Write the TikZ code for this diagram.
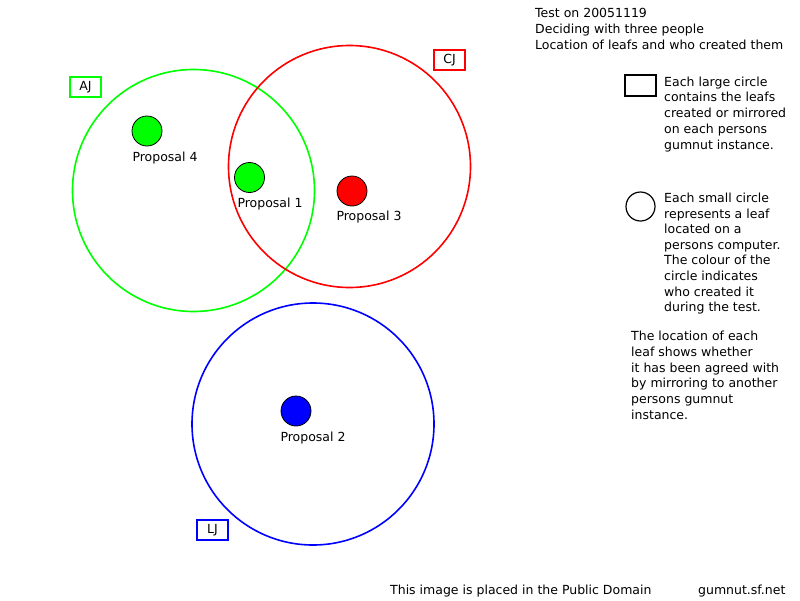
\documentclass[tikz,border=0pt]{standalone}
\usepackage{fontspec}
\setmainfont{DejaVu Sans}
\begin{document}
\begin{tikzpicture}[x=1pt,y=-1pt,
  every node/.style={font=\fontsize{12.5}{15}\selectfont},
  big/.style={circle,draw,line width=1.6pt,inner sep=0pt,minimum size=242pt},
  leaf/.style={circle,draw=black,line width=0.8pt,inner sep=0pt,minimum size=30pt},
  tag/.style={draw,line width=1.8pt,inner sep=0pt,minimum width=31pt,minimum height=20pt},
  txt/.style={anchor=base west,inner sep=0pt},
  lbl/.style={anchor=base,inner sep=0pt}]
\path[use as bounding box] (0,0) rectangle (800,600);
\fill[white] (0,0) rectangle (800,600);
% big circles
\node[big,draw={rgb,255:red,0;green,255;blue,0}] (AJc) at (193.5,190.5) {};
\node[big,draw=red] (CJc) at (349.5,166.5) {};
\node[big,draw=blue] (LJc) at (313,424) {};
% tags
\node[tag,draw={rgb,255:red,0;green,255;blue,0}] (AJ) at (85.5,87) {AJ};
\node[tag,draw=red] (CJ) at (449.5,60) {CJ};
\node[tag,draw=blue] (LJ) at (212.5,530) {LJ};
% leaves
\node[leaf,fill={rgb,255:red,0;green,255;blue,0}] (p4) at (147,131) {};
\node[leaf,fill={rgb,255:red,0;green,255;blue,0}] (p1) at (249.5,177.5) {};
\node[leaf,fill=red] (p3) at (352,191) {};
\node[leaf,fill=blue] (p2) at (296,411) {};
\node[lbl] (l4) at (165,161) {Proposal 4};
\node[lbl] (l1) at (270,207) {Proposal 1};
\node[lbl] (l3) at (369,220) {Proposal 3};
\node[lbl] (l2) at (313,441) {Proposal 2};
% title
\node[txt] (t1) at (535,17) {Test on 20051119};
\node[txt] (t2) at (535,33) {Deciding with three people};
\node[txt] (t3) at (535,49) {Location of leafs and who created them};
% legend
\node[draw=black,line width=1.8pt,inner sep=0pt,minimum width=31pt,minimum height=21pt] (legbox) at (640.5,85.5) {};
\node[txt] (a1) at (664,86) {Each large circle};
\node[txt] (a2) at (664,101.75) {contains the leafs};
\node[txt] (a3) at (664,117.5) {created or mirrored};
\node[txt] (a4) at (664,133.25) {on each persons};
\node[txt] (a5) at (664,149) {gumnut instance.};
\node[circle,draw=black,line width=1.2pt,inner sep=0pt,minimum size=29pt] (legcirc) at (640.5,206.5) {};
\node[txt] (b1) at (664,202.5) {Each small circle};
\node[txt] (b2) at (664,218.1) {represents a leaf};
\node[txt] (b3) at (664,233.7) {located on a};
\node[txt] (b4) at (664,249.3) {persons computer.};
\node[txt] (b5) at (664,264.9) {The colour of the};
\node[txt] (b6) at (664,280.5) {circle indicates};
\node[txt] (b7) at (664,296.1) {who created it};
\node[txt] (b8) at (664,311.7) {during the test.};
\node[txt] (c1) at (631,340.5) {The location of each};
\node[txt] (c2) at (631,356.3) {leaf shows whether};
\node[txt] (c3) at (631,372.1) {it has been agreed with};
\node[txt] (c4) at (631,387.9) {by mirroring to another};
\node[txt] (c5) at (631,403.7) {persons gumnut};
\node[txt] (c6) at (631,419.5) {instance.};
% footer
\node[txt] (f1) at (390,594.5) {This image is placed in the Public Domain};
\node[txt] (f2) at (698,594.5) {gumnut.sf.net};
\end{tikzpicture}
\end{document}
